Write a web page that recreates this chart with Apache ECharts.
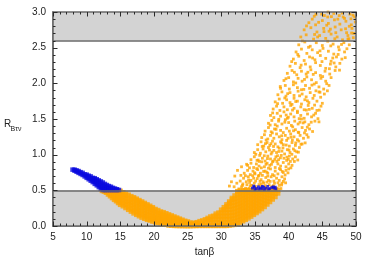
<!DOCTYPE html>
<html><head><meta charset="utf-8">
<script src="https://cdn.jsdelivr.net/npm/echarts@6/dist/echarts.min.js"></script>
<style>html,body{margin:0;padding:0;background:#fff}#c{width:374px;height:262px}</style>
</head><body><div id="c"></div>
<script>
// Axis ranges / ticks
const xTicks = [5, 10, 15, 20, 25, 30, 35, 40, 45, 50];
const yTicks = [0.0, 0.5, 1.0, 1.5, 2.0, 2.5, 3.0];
const xMinorPerMajor = 5, yMinorPerMajor = 5;
const bandLow = [0, 0.5];
const bandHigh = [2.6, 3.0];

// Blue dense band (columns: x, y values)
const blueBandCols = [
 [7.9,0.79],[8.2,0.775,0.79],[8.5,0.76,0.78],[8.8,0.745,0.77],[9.1,0.73,0.755],
 [9.4,0.715,0.745],[9.7,0.695,0.725],[10.0,0.675,0.70,0.72],[10.3,0.655,0.68,0.705],
 [10.6,0.635,0.665,0.695],[10.9,0.615,0.645,0.675],[11.2,0.59,0.62,0.65,0.67],
 [11.5,0.57,0.60,0.63,0.655],[11.8,0.545,0.575,0.61,0.64],[12.1,0.52,0.555,0.59,0.625],
 [12.4,0.505,0.535,0.57,0.61],[12.7,0.505,0.52,0.555,0.59],[13.0,0.505,0.54,0.575],
 [13.3,0.505,0.53,0.56],[13.6,0.505,0.525,0.55],[13.9,0.505,0.535],[14.2,0.505,0.525],
 [14.5,0.505,0.515],[14.8,0.505]
];
// Blue cluster near tanβ 35-38
const blueCluster = [
 [34.6,0.53],[34.9,0.545],[35.2,0.525],[35.5,0.55],[35.8,0.535],[36.0,0.52],[36.3,0.545],
 [36.6,0.53],[36.9,0.555],[37.2,0.525],[37.5,0.54],[37.8,0.53],[38.1,0.52],[35.0,0.51],
 [36.1,0.555],[37.0,0.515],[37.7,0.55],[35.6,0.515],[34.8,0.56],[36.4,0.51],[38.0,0.545]
];
// Orange left band (columns)
const orangeBandCols = [
 [12.3,0.495],[12.6,0.485],[12.9,0.47,0.495],[13.2,0.445,0.475,0.495],[13.5,0.42,0.45,0.48],
 [13.8,0.395,0.43,0.465,0.495],[14.1,0.37,0.405,0.44,0.475,0.5],[14.4,0.35,0.385,0.42,0.455,0.49],
 [14.7,0.325,0.36,0.40,0.44,0.48],[15.0,0.30,0.34,0.38,0.42,0.46,0.49],
 [15.4,0.28,0.32,0.36,0.40,0.44,0.47],[15.8,0.255,0.30,0.34,0.38,0.42,0.45],
 [16.2,0.23,0.27,0.31,0.35,0.39,0.435],[16.6,0.205,0.245,0.29,0.33,0.37,0.415],
 [17.0,0.18,0.22,0.26,0.30,0.34,0.38,0.40],[17.4,0.16,0.20,0.24,0.28,0.32,0.36,0.38],
 [17.8,0.14,0.18,0.22,0.26,0.30,0.34,0.36],[18.2,0.12,0.16,0.20,0.24,0.28,0.32,0.34],
 [18.6,0.105,0.14,0.18,0.22,0.26,0.30,0.32],[19.0,0.09,0.125,0.16,0.20,0.24,0.28,0.30],
 [19.4,0.08,0.11,0.15,0.19,0.23,0.26,0.28],[19.8,0.065,0.10,0.135,0.17,0.21,0.24,0.26],
 [20.2,0.055,0.09,0.12,0.16,0.20,0.235],[20.6,0.045,0.075,0.11,0.145,0.18,0.22],
 [21.0,0.035,0.065,0.10,0.135,0.17,0.20],[21.4,0.025,0.055,0.09,0.12,0.155,0.19],
 [21.8,0.02,0.05,0.08,0.11,0.14,0.175],[22.2,0.01,0.04,0.07,0.10,0.13,0.16],
 [22.6,0.008,0.035,0.06,0.09,0.115,0.145],[23.0,0.005,0.03,0.055,0.08,0.105,0.13],
 [23.4,0.004,0.025,0.05,0.07,0.095,0.115],[23.8,0.003,0.02,0.04,0.06,0.08,0.10],
 [24.2,0.003,0.02,0.04,0.06,0.085],[24.6,0.002,0.02,0.04,0.07],[25.0,0.002,0.02,0.04,0.06],
 [25.4,0.002,0.02,0.045],[25.8,0.003,0.02,0.04],[26.2,0.005,0.025,0.04]
];
// Orange right fan below 0.5 (columns)
const orangeFanCols = [
 [26.4,0.005,0.03,0.05],[26.8,0.005,0.035,0.065],[27.2,0.005,0.04,0.075],[27.6,0.005,0.045,0.09],
 [28.0,0.005,0.05,0.09,0.11],[28.4,0.005,0.05,0.09,0.13],[28.8,0.005,0.05,0.095,0.14],
 [29.2,0.005,0.05,0.095,0.14,0.17],[29.6,0.005,0.05,0.095,0.14,0.185],
 [30.0,0.005,0.05,0.095,0.14,0.185,0.225],[30.4,0.005,0.05,0.095,0.14,0.185,0.23,0.26],
 [30.8,0.005,0.05,0.095,0.14,0.185,0.23,0.275,0.30],
 [31.2,0.01,0.05,0.095,0.14,0.185,0.23,0.275,0.32,0.34],
 [31.6,0.015,0.055,0.1,0.145,0.19,0.235,0.28,0.325,0.37,0.39],
 [32.0,0.02,0.065,0.11,0.155,0.2,0.245,0.29,0.335,0.38,0.425],
 [32.4,0.035,0.08,0.125,0.17,0.215,0.26,0.305,0.35,0.395,0.44,0.485],
 [32.8,0.05,0.095,0.14,0.185,0.23,0.275,0.32,0.365,0.41,0.455,0.495],
 [33.2,0.07,0.115,0.16,0.205,0.25,0.295,0.34,0.385,0.43,0.475,0.5],
 [33.6,0.09,0.135,0.18,0.225,0.27,0.315,0.36,0.405,0.45,0.495],
 [34.0,0.11,0.155,0.2,0.245,0.29,0.335,0.38,0.425,0.47,0.5],
 [34.4,0.135,0.18,0.225,0.27,0.315,0.36,0.405,0.45,0.495],
 [34.8,0.16,0.205,0.25,0.295,0.34,0.385,0.43,0.475,0.5],
 [35.2,0.185,0.23,0.275,0.32,0.365,0.41,0.455,0.5],
 [35.6,0.21,0.255,0.3,0.345,0.39,0.435,0.48],
 [36.0,0.24,0.285,0.33,0.375,0.42,0.465,0.5],
 [36.4,0.27,0.315,0.36,0.405,0.45,0.495],
 [36.8,0.305,0.35,0.395,0.44,0.485],
 [37.2,0.34,0.385,0.43,0.475,0.5],
 [37.6,0.375,0.42,0.465,0.5],
 [38.0,0.41,0.455,0.5],
 [38.4,0.46,0.5]
];
// Orange scattered cloud above 0.5
const orangeCloud = [
 [32.6,0.52],[33.0,0.55],[33.4,0.51],[33.8,0.58],[34.1,0.53],[34.5,0.57],[34.9,0.6],[35.2,0.52],[35.6,0.58],[36.0,0.55],[36.3,0.6],[36.7,0.53],[37.1,0.58],[37.5,0.55],[37.9,0.6],[38.3,0.53],[38.6,0.57],[39.0,0.6],[33.2,0.59],[35.8,0.51],[37.3,0.51],
 [32.8,0.63],[33.3,0.67],[33.7,0.62],[34.0,0.69],[34.4,0.64],[34.8,0.67],[35.1,0.63],[35.5,0.7],[35.9,0.65],[36.2,0.62],[36.6,0.68],[37.0,0.64],[37.4,0.69],[37.8,0.63],[38.2,0.67],[38.6,0.64],[39.0,0.69],[39.4,0.66],[34.2,0.61],[36.9,0.7],
 [33.4,0.74],[33.9,0.78],[34.3,0.72],[34.7,0.77],[35.0,0.73],[35.4,0.79],[35.8,0.74],[36.1,0.71],[36.5,0.77],[36.9,0.74],[37.3,0.8],[37.6,0.72],[38.0,0.77],[38.4,0.73],[38.8,0.79],[39.2,0.75],[39.6,0.78],[40.0,0.8],[35.6,0.71],
 [31.5,0.62],[32.0,0.7],[31.9,0.55],[32.4,0.78],[33.0,0.83],[31.2,0.56],
 [33.9,0.85],[34.4,0.88],[34.8,0.82],[35.2,0.87],[35.6,0.84],[36.0,0.9],[36.4,0.83],[36.8,0.88],[37.2,0.85],[37.6,0.9],[38.0,0.82],[38.4,0.87],[38.8,0.84],[39.2,0.89],[39.6,0.83],[40.0,0.87],[40.5,0.85],[37.0,0.81],
 [34.4,0.93],[34.9,0.97],[35.3,0.92],[35.7,0.99],[36.1,0.95],[36.5,0.91],[36.9,0.98],[37.3,0.94],[37.7,0.91],[38.1,0.97],[38.5,0.93],[38.9,0.99],[39.3,0.95],[39.7,0.92],[40.1,0.98],[40.6,0.94],[41.0,0.97],
 [34.9,1.03],[35.4,1.07],[35.8,1.02],[36.2,1.08],[36.6,1.04],[37.0,1.1],[37.4,1.01],[37.8,1.06],[38.2,1.03],[38.6,1.09],[39.0,1.05],[39.4,1.01],[39.8,1.07],[40.2,1.03],[40.7,1.08],[41.2,1.04],[41.6,1.1],
 [35.4,1.14],[35.9,1.18],[36.3,1.12],[36.8,1.17],[37.2,1.13],[37.6,1.19],[38.0,1.15],[38.4,1.11],[38.8,1.18],[39.2,1.14],[39.7,1.2],[40.1,1.12],[40.5,1.17],[41.0,1.13],[41.5,1.19],[42.0,1.15],
 [36.0,1.24],[36.4,1.28],[36.9,1.22],[37.3,1.27],[37.8,1.23],[38.2,1.29],[38.6,1.25],[39.0,1.21],[39.5,1.27],[39.9,1.23],[40.3,1.29],[40.8,1.25],[41.3,1.21],[41.7,1.27],[42.2,1.23],[42.7,1.28],
 [36.5,1.33],[37.0,1.38],[37.4,1.32],[37.9,1.36],[38.3,1.4],[38.8,1.34],[39.2,1.31],[39.7,1.37],[40.1,1.33],[40.6,1.39],[41.0,1.35],[41.5,1.31],[42.0,1.38],[42.5,1.34],[43.1,1.36],
 [37.0,1.44],[37.5,1.48],[38.0,1.42],[38.5,1.47],[39.0,1.43],[39.5,1.49],[40.0,1.45],[40.4,1.41],[40.9,1.47],[41.4,1.43],[41.9,1.5],[42.4,1.46],[43.0,1.42],[43.9,1.47],[44.5,1.46],
 [37.3,1.55],[37.8,1.52],[38.3,1.58],[38.8,1.54],[39.3,1.6],[39.8,1.51],[40.3,1.57],[40.8,1.53],[41.3,1.59],[41.8,1.55],[42.3,1.51],[42.8,1.57],[43.4,1.53],[44.0,1.58],
 [37.7,1.64],[38.2,1.68],[38.7,1.62],[39.3,1.67],[39.8,1.63],[40.3,1.69],[40.8,1.65],[41.3,1.61],[41.8,1.67],[42.3,1.63],[42.9,1.69],[43.5,1.65],[44.2,1.62],[44.8,1.68],
 [38.0,1.74],[38.6,1.78],[39.1,1.72],[39.7,1.77],[40.2,1.73],[40.8,1.79],[41.3,1.75],[41.9,1.71],[42.4,1.77],[43.0,1.73],[43.6,1.79],[44.2,1.75],[45.0,1.72],
 [38.4,1.84],[39.0,1.88],[39.6,1.82],[40.2,1.87],[40.8,1.83],[41.4,1.89],[42.0,1.85],[42.6,1.81],[43.2,1.87],[43.8,1.83],[44.5,1.88],[45.3,1.85],
 [38.8,1.93],[39.5,1.97],[40.1,1.92],[40.7,1.98],[41.3,1.94],[41.9,1.91],[42.5,1.97],[43.1,1.93],[43.8,1.99],[44.5,1.95],[45.2,1.92],[46.0,1.97],
 [39.3,2.04],[40.0,2.08],[40.7,2.02],[41.4,2.07],[42.0,2.03],[42.7,2.09],[43.4,2.05],[44.1,2.01],[44.8,2.07],[45.5,2.03],[46.3,2.08],
 [39.8,2.14],[40.5,2.18],[41.2,2.12],[41.9,2.17],[42.6,2.13],[43.3,2.19],[44.0,2.15],[44.7,2.11],[45.4,2.17],[46.1,2.13],[46.9,2.18],
 [40.2,2.24],[41.0,2.28],[41.7,2.22],[42.5,2.27],[43.2,2.23],[44.0,2.29],[44.7,2.25],[45.5,2.21],[46.2,2.27],[47.0,2.23],[47.6,2.28],
 [40.7,2.34],[41.5,2.38],[42.3,2.32],[43.1,2.37],[43.9,2.33],[44.7,2.39],[45.5,2.35],[46.3,2.31],[47.1,2.37],[47.9,2.34],[48.4,2.36],
 [41.1,2.44],[41.9,2.48],[42.7,2.42],[43.5,2.47],[44.3,2.43],[45.1,2.49],[45.9,2.45],[46.7,2.41],[47.5,2.47],[48.3,2.44],
 [41.5,2.54],[42.4,2.58],[43.2,2.52],[44.1,2.57],[45.0,2.53],[45.8,2.59],[46.6,2.55],[47.4,2.51],[48.2,2.57],[49.0,2.54],
 [41.8,2.65],[42.6,2.68],[43.7,2.62],[44.6,2.67],[45.5,2.63],[46.3,2.69],[47.2,2.65],[48.0,2.61],[48.8,2.67],[49.6,2.64],
 [42.3,2.75],[43.3,2.78],[44.2,2.72],[45.2,2.77],[46.0,2.73],[46.9,2.79],[47.8,2.75],[48.6,2.71],[49.4,2.77],
 [43.0,2.85],[44.0,2.82],[45.0,2.88],[45.9,2.84],[46.8,2.89],[47.6,2.83],[48.5,2.87],[49.3,2.82],[49.9,2.86],
 [43.8,2.94],[44.9,2.97],[45.8,2.93],[46.7,2.98],[47.5,2.95],[48.3,2.91],[49.1,2.97],[49.8,2.93]
];
// Further orange cloud points (irregular, filling between)
const orangeCloud2 = [
 [33.15,0.57],[34.62,0.515],[35.93,0.585],[37.72,0.565],[38.85,0.525],[36.45,0.505],[34.05,0.645],[35.33,0.665],
 [36.77,0.615],[38.41,0.605],[39.21,0.625],[33.58,0.705],[34.95,0.745],[36.28,0.765],[37.85,0.705],[39.47,0.715],
 [39.9,0.745],[34.18,0.815],[35.47,0.925],[36.63,0.865],[37.95,0.935],[38.63,0.805],[39.95,0.935],[40.33,0.815],
 [40.85,0.905],[35.12,1.005],[36.38,0.985],[37.53,1.035],[38.77,0.955],[40.48,1.005],[41.35,0.925],[36.07,1.115],
 [37.37,1.155],[38.55,1.045],[39.63,1.135],[40.92,1.055],[41.83,1.145],[36.65,1.205],[37.58,1.305],[38.97,1.265],
 [40.55,1.205],[41.42,1.315],[42.45,1.165],[42.9,1.245],[37.25,1.415],[38.12,1.355],[39.43,1.455],[40.72,1.335],
 [41.68,1.455],[42.77,1.385],[43.55,1.325],[37.62,1.585],[38.53,1.495],[39.63,1.555],[40.57,1.625],[41.56,1.505],
 [42.63,1.625],[43.73,1.555],[44.35,1.505],[38.35,1.715],[39.42,1.795],[40.5,1.705],[41.62,1.825],[42.78,1.755],
 [43.85,1.695],[44.75,1.805],[38.75,1.955],[39.85,1.855],[41.05,2.005],[42.25,1.915],[43.45,1.975],[44.65,1.875],
 [45.65,1.995],[39.6,2.065],[40.85,2.155],[42.35,2.055],[43.65,2.125],[45.05,2.095],[46.05,2.205],[40.45,2.305],
 [41.85,2.255],[43.55,2.355],[44.95,2.305],[46.55,2.355],[47.35,2.405],[41.35,2.405],[42.95,2.505],[44.65,2.455],
 [46.25,2.525],[47.85,2.545],[48.65,2.485],[42.05,2.595],[43.85,2.685],[45.25,2.725],[46.85,2.625],[48.45,2.765],
 [49.35,2.705],[44.45,2.855],[46.35,2.935],[47.95,2.985],[49.55,2.955],[42.65,2.805],[45.65,2.815],
 [47.0,2.71],[48.1,2.93],[49.0,2.8],[46.2,2.76],[45.3,2.95],[47.3,2.9],[48.8,2.62],[49.7,2.7],[44.3,2.65],[43.5,2.9],
 [32.3,0.6],[32.9,0.71],[33.6,0.53],[34.3,0.565],[35.05,0.555],[35.75,0.625],[36.55,0.565],[37.25,0.625],[38.05,0.535],
 [38.95,0.575],[39.55,0.605],[33.75,0.865],[34.65,0.705],[35.25,0.805],[35.95,0.815],[36.75,0.755],[37.45,0.865],
 [38.25,0.905],[39.05,0.765],[39.75,0.965],[40.25,0.905],[35.65,0.905],[36.85,0.945],[37.15,1.065],[38.35,0.985],
 [39.15,1.095],[40.05,1.065],[41.05,1.165],[41.45,1.035],[36.55,1.155],[37.75,1.115],[38.95,1.165],[40.35,1.245],
 [42.35,1.305],[43.35,1.455],[42.15,1.445],[39.95,1.525],[43.05,1.635],[44.55,1.625],[41.05,1.745],[44.05,1.895],
 [45.75,1.895],[42.85,2.155],[46.75,2.285],[47.55,2.185],[48.95,2.625],[49.25,2.905],[45.85,3.0],[44.05,2.965]
];

function flatten(cols){ const out=[]; cols.forEach(c=>{ for(let i=1;i<c.length;i++) out.push([c[0],c[i]]); }); return out; }

// Tick positions (major from tick arrays, minor subdivisions between them)
function tickItems(ticks, nMinor, isY){
  const out=[];
  for(let i=0;i<ticks.length;i++){
    out.push(isY ? [xTicks[0], ticks[i], 1, 1] : [ticks[i], yTicks[0], 0, 1]);
    if(i<ticks.length-1){
      const step=(ticks[i+1]-ticks[i])/nMinor;
      for(let k=1;k<nMinor;k++){
        const v=+(ticks[i]+k*step).toFixed(4);
        out.push(isY ? [xTicks[0], v, 1, 0] : [v, yTicks[0], 0, 0]);
      }
    }
  }
  return out;
}
const tickData = tickItems(xTicks, xMinorPerMajor, false).concat(tickItems(yTicks, yMinorPerMajor, true));

const ORANGE='#ffa500', BLUE='#0a0ade', FRAME='#6a6a6a', TICK='#2a2a2a';
const font='Liberation Sans';
const chart = echarts.init(document.getElementById('c'));
function mkAxis(kind){
  const isX = kind==='x';
  return {
    type:'value',
    min: isX ? xTicks[0] : yTicks[0],
    max: isX ? xTicks[xTicks.length-1] : yTicks[yTicks.length-1],
    interval: isX ? 5 : 0.5,
    axisLine:{show:true,lineStyle:{color:FRAME,width:1.6}},
    axisTick:{show:false},
    splitLine:{show:false},
    axisLabel:{color:'#222',fontSize:10,fontFamily:font,margin:isX?6:7,
      formatter: isX ? (v=>String(v)) : (v=>v.toFixed(1))}
  };
}
const xMain = mkAxis('x');
xMain.name='tanβ'; xMain.nameLocation='middle'; xMain.nameGap=21;
xMain.nameTextStyle={color:'#222',fontSize:10,fontFamily:font};

function renderTick(params, api){
  const cs = params.coordSys;
  const isY = api.value(2) === 1, major = api.value(3) === 1;
  const len = major ? 4.5 : 2.5;
  const pt = api.coord([api.value(0), api.value(1)]);
  const st = {stroke:TICK, lineWidth:1};
  if(!isY){
    const x = Math.round(pt[0]) + 0.5, yb = cs.y + cs.height, yt = cs.y;
    return {type:'group',children:[
      {type:'line',shape:{x1:x,y1:yb,x2:x,y2:yb-len},style:st},
      {type:'line',shape:{x1:x,y1:yt,x2:x,y2:yt+len},style:st}
    ]};
  }
  const y = Math.round(pt[1]) + 0.5, xl = cs.x, xr = cs.x + cs.width;
  return {type:'group',children:[
    {type:'line',shape:{x1:xl,y1:y,x2:xl+len,y2:y},style:st},
    {type:'line',shape:{x1:xr,y1:y,x2:xr-len,y2:y},style:st}
  ]};
}

chart.setOption({
  animation:false,
  grid:{left:53,right:18,top:12,bottom:35,show:true,z:4,borderColor:FRAME,borderWidth:1.6,backgroundColor:'transparent'},
  xAxis:xMain,
  yAxis:mkAxis('y'),
  graphic:[
    {type:'text',left:4,top:119,style:{text:'R',fontSize:10,fontFamily:font,fill:'#222'}},
    {type:'text',left:10.5,top:125.5,style:{text:'Bτν',fontSize:7,fontFamily:font,fill:'#222'}}
  ],
  series:[
    {type:'scatter',data:[],z:1,silent:true,
     markArea:{silent:true,itemStyle:{color:'#d3d3d3'},
       data:[[{xAxis:5,yAxis:bandLow[0]},{xAxis:50,yAxis:bandLow[1]}],[{xAxis:5,yAxis:bandHigh[0]},{xAxis:50,yAxis:bandHigh[1]}]]}},
    {type:'scatter',z:3,symbol:'rect',symbolSize:5,itemStyle:{color:ORANGE},data:flatten(orangeBandCols)},
    {type:'scatter',z:3,symbol:'rect',symbolSize:5,itemStyle:{color:ORANGE},data:flatten(orangeFanCols)},
    {type:'scatter',z:3,symbol:'rect',symbolSize:2.8,itemStyle:{color:ORANGE},data:orangeCloud.concat(orangeCloud2)},
    {type:'scatter',z:4,symbol:'rect',symbolSize:4.5,itemStyle:{color:BLUE},data:flatten(blueBandCols)},
    {type:'scatter',z:4,symbol:'rect',symbolSize:2.8,itemStyle:{color:BLUE},data:blueCluster},
    {type:'scatter',data:[],z:6,silent:true,
     markLine:{silent:true,symbol:'none',label:{show:false},lineStyle:{color:FRAME,width:1.6,type:'solid'},
       data:[{yAxis:bandLow[1]},{yAxis:bandHigh[0]}]}},
    {type:'custom',coordinateSystem:'cartesian2d',z:8,silent:true,clip:false,
     renderItem:renderTick,data:tickData}
  ]
});
</script></body></html>
